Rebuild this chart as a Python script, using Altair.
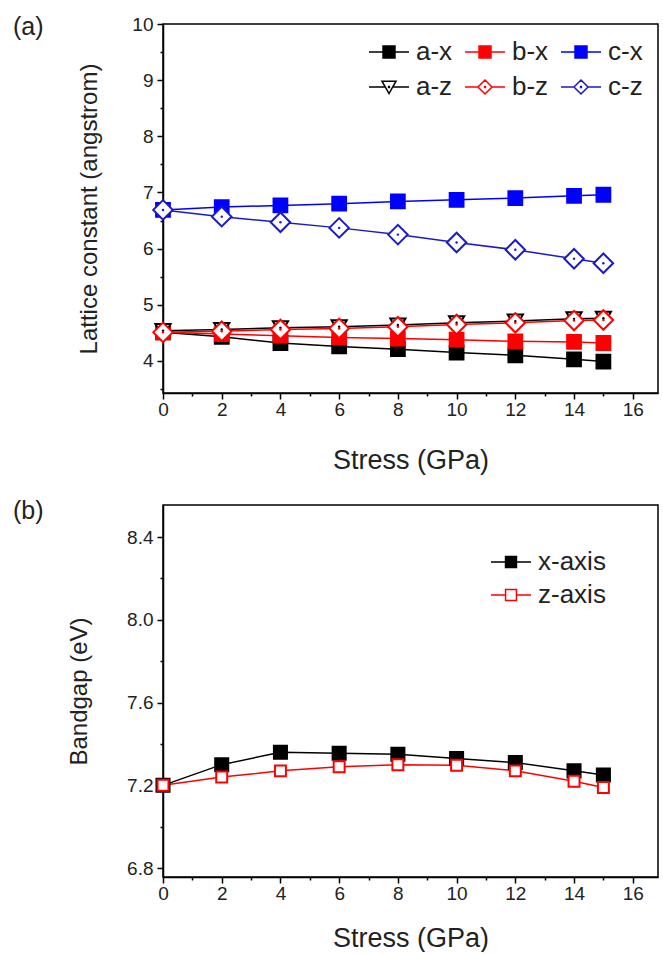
import altair as alt
import pandas as pd

# ---------------- data ----------------
stress = [0, 2, 4, 6, 8, 10, 12, 14, 15]

lat_series = ["a-x", "b-x", "c-x", "a-z", "b-z", "c-z"]
a_x = [4.51, 4.43, 4.32, 4.26, 4.21, 4.15, 4.10, 4.03, 3.99]
b_x = [4.51, 4.48, 4.45, 4.42, 4.40, 4.38, 4.35, 4.34, 4.32]
c_x = [6.69, 6.74, 6.77, 6.80, 6.84, 6.87, 6.90, 6.94, 6.96]
a_z = [4.54, 4.56, 4.59, 4.61, 4.64, 4.68, 4.71, 4.75, 4.76]
b_z = [4.51, 4.53, 4.56, 4.58, 4.61, 4.65, 4.68, 4.72, 4.73]
c_z = [6.69, 6.57, 6.47, 6.37, 6.25, 6.11, 5.98, 5.82, 5.74]
# legend reading order (filled column by column: x row on top, z row below)
lat_legend_order = ["a-x", "a-z", "b-x", "b-z", "c-x", "c-z"]

gap_series = ["x-axis", "z-axis"]
gap_x = [7.20, 7.30, 7.36, 7.355, 7.35, 7.33, 7.31, 7.27, 7.25]
gap_z = [7.20, 7.24, 7.27, 7.29, 7.30, 7.297, 7.27, 7.22, 7.19]

x_major = [0, 2, 4, 6, 8, 10, 12, 14, 16]
x_minor = [1, 3, 5, 7, 9, 11, 13, 15]
ya_major = [4, 5, 6, 7, 8, 9, 10]
ya_minor = [3.5, 4.5, 5.5, 6.5, 7.5, 8.5, 9.5]
yb_major = [6.8, 7.2, 7.6, 8.0, 8.4]
yb_minor = [7.0, 7.4, 7.8, 8.2]

# ---------------- styles ----------------
FONT = "Liberation Sans"
TXT = "#222222"
lat_colors = ["#000000", "#FF0000", "#0000FF", "#000000", "#FF0000", "#1A1ACC"]
lat_fills = ["#000000", "#FF0000", "#0000FF", "#FFFFFF", "#FFFFFF", "#FFFFFF"]
lat_shapes = ["square", "square", "square", "triangle-down", "diamond", "diamond"]
# marker groups drawn in series order: (series, size)
lat_groups = [(["a-x", "b-x", "c-x"], 190), (["a-z"], 230), (["b-z", "c-z"], 380)]

gap_colors = ["#000000", "#FF0000"]
gap_fills = ["#000000", "#FFFFFF"]
gap_groups = [(["x-axis"], 170), (["z-axis"], 120)]

L = 1.54
DOT = "M-0.03,-0.03H0.03V0.03H-0.03Z"
p_sq = f"M-{L},0H-0.46M0.46,0H{L}M-0.46,-0.46H0.46V0.46H-0.46Z"
p_tri = f"M-{L},0H-0.28M0.28,0H{L}M-0.54,-0.45H0.54L0,0.5Z" + DOT
p_dia = f"M-{L},0H-0.54M0.54,0H{L}M0,-0.54L0.54,0L0,0.54L-0.54,0Z" + DOT
lat_paths = {"a-x": p_sq, "b-x": p_sq, "c-x": p_sq, "a-z": p_tri, "b-z": p_dia, "c-z": p_dia}
p_sq_b = f"M-{L},0H-0.42M0.42,0H{L}M-0.42,-0.42H0.42V0.42H-0.42Z"

# ---------------- tables ----------------
rows = []
for name, vals in zip(lat_series, [a_x, b_x, c_x, a_z, b_z, c_z]):
    for s, v in zip(stress, vals):
        rows.append({"stress": s, "value": v, "series": name})
lat_df = pd.DataFrame(rows)

rows = []
for name, vals in zip(gap_series, [gap_x, gap_z]):
    for s, v in zip(stress, vals):
        rows.append({"stress": s, "value": v, "series": name})
gap_df = pd.DataFrame(rows)

W = 495


def panel(df, series, colors, fills, shapes, groups, leg_order, leg_colors, leg_fills, leg_paths,
          ydom, ymaj, ymin_ticks, yfmt, ytitle, ytitle_pad, xtitle_pad, height, label, label_y,
          legend, dotted):
    xs = alt.Scale(domain=[0, 16.86], nice=False, zero=False)
    ys = alt.Scale(domain=ydom, nice=False, zero=False)
    sc_stroke = alt.Scale(domain=series, range=colors)
    sc_fill = alt.Scale(domain=series, range=fills)
    sc_shape = alt.Scale(domain=series, range=shapes)

    base = alt.Chart(df)

    # lines + minor-tick axes
    lines = base.mark_line(strokeWidth=1.5).encode(
        x=alt.X("stress:Q", scale=xs,
                axis=alt.Axis(orient="bottom", values=x_minor, labels=False, title=None,
                              domain=False, tickSize=3, grid=False)),
        y=alt.Y("value:Q", scale=ys,
                axis=alt.Axis(orient="left", values=ymin_ticks, labels=False, title=None,
                              domain=False, tickSize=3, grid=False)),
        stroke=alt.Stroke("series:N", scale=sc_stroke, legend=None),
        order="stress:Q",
    )
    layers = [lines]

    # markers (+ major axes on the first group)
    for gi, (members, msize) in enumerate(groups):
        if gi == 0:
            xax = alt.Axis(orient="bottom", values=x_major, title="Stress (GPa)",
                           tickSize=6, labelPadding=1, titlePadding=xtitle_pad,
                           titleFontSize=27, labelFlush=False, labelOverlap=False, grid=False)
            yax = alt.Axis(orient="left", values=ymaj, title=ytitle, format=yfmt,
                           tickSize=6, labelPadding=4, titlePadding=ytitle_pad,
                           titleFontSize=24, labelOverlap=False, grid=False)
        else:
            xax = None
            yax = None
        pts = base.transform_filter(
            alt.FieldOneOfPredicate(field="series", oneOf=members)
        ).mark_point(filled=True, opacity=1, strokeWidth=2, size=msize).encode(
            x=alt.X("stress:Q", scale=xs, axis=xax),
            y=alt.Y("value:Q", scale=ys, axis=yax),
            stroke=alt.Stroke("series:N", scale=sc_stroke, legend=None),
            fill=alt.Fill("series:N", scale=sc_fill, legend=None),
            shape=alt.Shape("series:N", scale=sc_shape, legend=None),
        )
        layers.append(pts)

    if dotted:
        dots = base.transform_filter(
            alt.FieldOneOfPredicate(field="series", oneOf=dotted)
        ).mark_point(filled=True, opacity=1, size=6, strokeWidth=0).encode(
            x=alt.X("stress:Q", scale=xs, axis=None),
            y=alt.Y("value:Q", scale=ys, axis=None),
            fill=alt.Fill("series:N", scale=sc_stroke, legend=None),
        )
        layers.append(dots)

    # legend-only layer (no marks drawn)
    leg_layer = base.transform_filter("false").mark_point(
        filled=True, opacity=1, strokeWidth=1.5, size=676
    ).encode(
        stroke=alt.Stroke("series:N", scale=alt.Scale(domain=leg_order, range=leg_colors), legend=legend),
        fill=alt.Fill("series:N", scale=alt.Scale(domain=leg_order, range=leg_fills), legend=legend),
        shape=alt.Shape("series:N", scale=alt.Scale(domain=leg_order, range=leg_paths), legend=legend),
    )
    layers.append(leg_layer)

    lab = alt.Chart(alt.InlineData(values=[{"k": 1}])).mark_text(
        text=label, font=FONT, fontSize=25, color=TXT, align="left", baseline="middle"
    ).encode(x=alt.value(-150), y=alt.value(label_y))
    layers.append(lab)

    return alt.layer(*layers).resolve_scale(
        stroke="independent", fill="independent", shape="independent"
    ).resolve_axis(x="independent", y="independent").properties(width=W, height=height)


leg_a = alt.Legend(title=None, orient="none", legendX=212, legendY=14, columns=3,
                   symbolSize=676, symbolStrokeWidth=1.5, labelFontSize=26, labelFont=FONT,
                   labelColor=TXT, labelOffset=13, rowPadding=8, columnPadding=8, padding=0)
leg_b = alt.Legend(title=None, orient="none", legendX=334, legendY=43, columns=1,
                   symbolSize=676, symbolStrokeWidth=1.5, labelFontSize=26, labelFont=FONT,
                   labelColor=TXT, labelOffset=13, rowPadding=6, padding=0)

idx = {s: i for i, s in enumerate(lat_series)}
top = panel(lat_df, lat_series, lat_colors, lat_fills, lat_shapes, lat_groups,
            lat_legend_order,
            [lat_colors[idx[s]] for s in lat_legend_order],
            [lat_fills[idx[s]] for s in lat_legend_order],
            [lat_paths[s] for s in lat_legend_order],
            [3.43, 10], ya_major, ya_minor, "d", "Lattice constant (angstrom)", 30, 28, 369,
            "(a)", 3, leg_a, ["a-z", "b-z", "c-z"])
bot = panel(gap_df, gap_series, gap_colors, gap_fills, ["square", "square"], gap_groups,
            gap_series, gap_colors, gap_fills, [p_sq_b, p_sq_b],
            [6.757, 8.555], yb_major, yb_minor, ".1f", "Bandgap (eV)", 35, 22, 372,
            "(b)", 6, leg_b, [])

chart = alt.vconcat(top, bot, spacing=24).properties(
    padding={"left": 12, "top": 14, "right": 0, "bottom": 0},
    background="white",
).configure_view(stroke="black", strokeWidth=1.5).configure_axis(
    domainColor="black", domainWidth=1.5, tickColor="black", tickWidth=1.5,
    labelFont=FONT, labelFontSize=19, labelColor=TXT,
    titleFont=FONT, titleFontWeight="normal", titleColor=TXT,
)

chart.save("out.html", embed_options={"renderer": "svg", "actions": False})
